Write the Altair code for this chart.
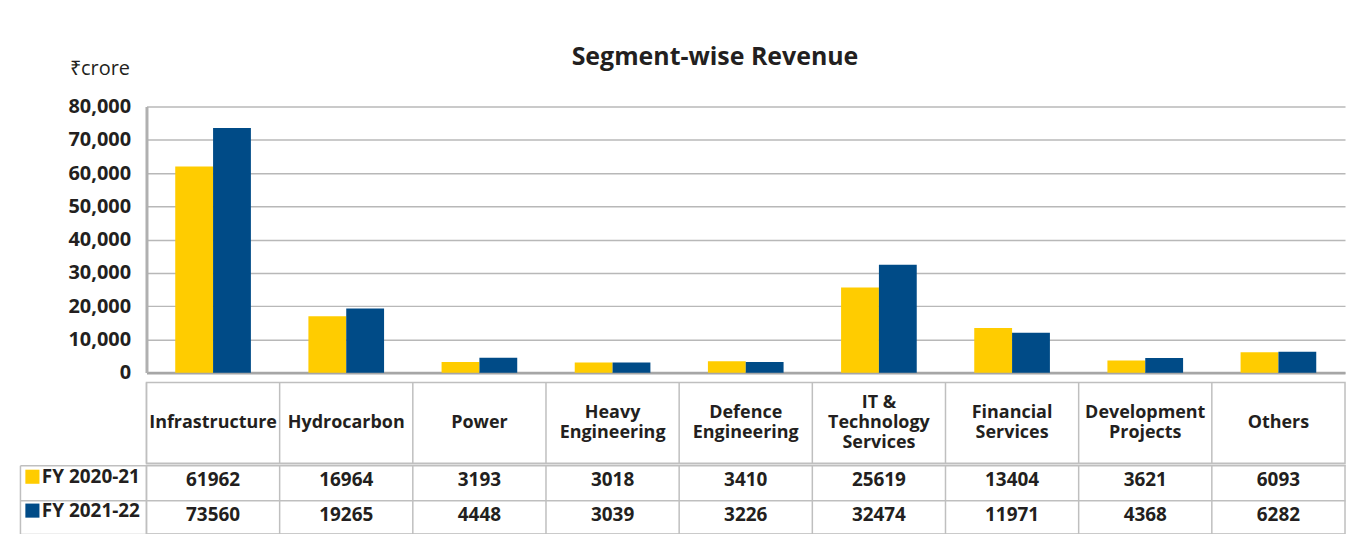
import altair as alt
import pandas as pd

segments = ["Infrastructure", "Hydrocarbon", "Power", "Heavy Engineering",
            "Defence Engineering", "IT & Technology Services", "Financial Services",
            "Development Projects", "Others"]
header_labels = ["Infrastructure", "Hydrocarbon", "Power", "Heavy\nEngineering",
                 "Defence\nEngineering", "IT &\nTechnology\nServices", "Financial\nServices",
                 "Development\nProjects", "Others"]
years = ["FY 2020-21", "FY 2021-22"]
fy_2020_21 = [61962, 16964, 3193, 3018, 3410, 25619, 13404, 3621, 6093]
fy_2021_22 = [73560, 19265, 4448, 3039, 3226, 32474, 11971, 4368, 6282]
y_ticks = [0, 10000, 20000, 30000, 40000, 50000, 60000, 70000, 80000]
bar_colors = ["#FFCC00", "#004B87"]

FONT = "Open Sans"
TXT = "#231F20"
LINE = "#BFBFBF"

rows = []
for seg, a, b in zip(segments, fy_2020_21, fy_2021_22):
    rows.append({"segment": seg, "year": years[0], "value": a})
    rows.append({"segment": seg, "year": years[1], "value": b})
df = pd.DataFrame(rows)
hdr = pd.DataFrame({"segment": segments, "label": header_labels})

x_scale = alt.Scale(domain=segments, paddingInner=0, paddingOuter=0)
row_scale = alt.Scale(domain=years, paddingInner=0, paddingOuter=0)
color_scale = alt.Scale(domain=years, range=bar_colors)

bars = alt.Chart(df).mark_bar().encode(
    x=alt.X("segment:N", scale=x_scale, sort=segments,
            axis=alt.Axis(labels=False, ticks=False, title=None, grid=False,
                          domainColor="#A6A6A6", domainWidth=3)),
    xOffset=alt.XOffset("year:N", scale=alt.Scale(domain=years, paddingInner=0, paddingOuter=0.76)),
    y=alt.Y("value:Q", scale=alt.Scale(domain=[0, 80000], nice=False),
            axis=alt.Axis(values=y_ticks, format=",d", labelFont=FONT, labelFontSize=20,
                          labelFontWeight="bold", labelColor=TXT, labelPadding=16,
                          ticks=False, domainColor="#B0B0B0", domainWidth=3,
                          gridColor="#B8B8B8", gridWidth=1.5,
                          title="₹crore", titleAngle=0, titleAlign="right",
                          titleBaseline="middle", titleX=-17, titleY=-38,
                          titleFont=FONT, titleFontSize=20, titleFontWeight="normal",
                          titleColor=TXT)),
    color=alt.Color("year:N", scale=color_scale, legend=None),
).properties(width=1203, height=267)

col_lines = alt.Chart(hdr).mark_rule(color=LINE, strokeWidth=1.5).encode(
    x=alt.X("segment:N", scale=x_scale, sort=segments, bandPosition=0, axis=None),
)

header_text = alt.Chart(hdr).mark_text(
    font=FONT, fontSize=18, fontWeight="bold", color=TXT, lineBreak="\n",
    lineHeight=20, baseline="middle",
    dy=alt.expr("-10 * (length(split(datum.label, '\\n')) - 1)"),
).encode(
    x=alt.X("segment:N", scale=x_scale, sort=segments, axis=None),
    text="label:N",
)
header = alt.layer(col_lines, header_text).properties(
    width=1203, height=81, view=alt.ViewBackground(stroke=LINE, strokeWidth=1.5))

vals_text = alt.Chart(df).mark_text(
    font=FONT, fontSize=19, fontWeight="bold", color=TXT, baseline="middle", dy=-2
).encode(
    x=alt.X("segment:N", scale=x_scale, sort=segments, axis=None),
    y=alt.Y("year:N", scale=row_scale,
            axis=alt.Axis(labels=False, domain=False, ticks=True, tickBand="extent",
                          tickSize=127, tickColor=LINE, tickWidth=1.5, grid=True,
                          gridColor=LINE, gridWidth=1.5, title=None)),
    text=alt.Text("value:Q", format="d"),
)

vals_legend = alt.Chart(df).mark_square(opacity=0).encode(
    x=alt.X("segment:N", scale=x_scale, sort=segments, axis=None),
    y=alt.Y("year:N", scale=row_scale,
            axis=alt.Axis(orient="left", offset=127, labels=False, ticks=False, grid=False,
                          domain=True, domainColor=LINE, domainWidth=1.5, title=None)),
    color=alt.Color("year:N", scale=color_scale,
                    legend=alt.Legend(orient="none", legendX=-124, legendY=85, title=None,
                                      symbolType="square", symbolSize=200, symbolOpacity=1,
                                      symbolStrokeWidth=0, labelFont=FONT, labelFontSize=19,
                                      labelFontWeight="bold", labelColor=TXT, labelOffset=0,
                                      rowPadding=14, padding=0)),
)

values = alt.layer(col_lines, vals_text, vals_legend).resolve_axis(y="independent").properties(
    width=1203, height=69, view=alt.ViewBackground(stroke=LINE, strokeWidth=1.5))

table = alt.vconcat(header, values, spacing=-7)

chart = alt.vconcat(bars, table, spacing=-4).resolve_legend(color="independent").properties(
    title=alt.Title("Segment-wise Revenue", font=FONT, fontSize=25, fontWeight="bold",
                    color=TXT, anchor="middle", offset=-11, dx=33),
    padding={"left": 10, "top": 36, "right": 0, "bottom": 0},
).configure_view(stroke=None)

chart.save("out.html", embed_options={"renderer": "svg", "actions": False})
